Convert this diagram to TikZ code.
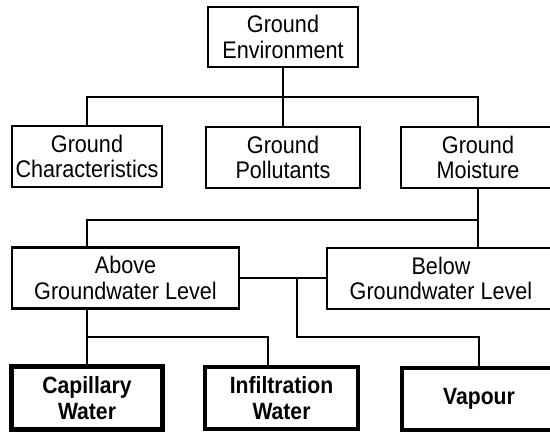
\documentclass[tikz,border=0pt]{standalone}
\usepackage{fontspec}
\setmainfont[FakeStretch=0.9]{Liberation Sans}
\begin{document}
\begin{tikzpicture}[x=1pt,y=-1pt,
  box/.style={draw, line width=2.3pt, inner sep=0pt, align=center,
    font=\fontsize{24}{25.5}\selectfont},
  leafbox/.style={box, line width=4.8pt, font=\fontsize{23.5}{25.5}\selectfont\bfseries},
  link/.style={line width=1.2pt}]
\useasboundingbox (0,0) rectangle (550,433);
\clip (0,0) rectangle (550,433);

% level 0
\node[box, minimum width=150pt, minimum height=60pt] (env) at (283,37) {Ground\\Environment};

% level 1
\node[box, minimum width=150pt, minimum height=61pt] (chr) at (87,156.5) {Ground\\Characteristics};
\node[box, minimum width=154pt, minimum height=61pt] (pol) at (283,157.5) {Ground\\Pollutants};
\node[box, minimum width=154pt, minimum height=61pt] (moi) at (478,157.5) {Ground\\Moisture};

% level 2
\node[box, minimum width=227pt, minimum height=61pt] (abv) at (125.5,278) {Above\\Groundwater Level};
\node[box, minimum width=228pt, minimum height=61pt] (blw) at (441,278.5) {Below\\Groundwater Level};

% level 3
\node[leafbox, minimum width=151pt, minimum height=63pt] (cap) at (87,398) {Capillary\\Water};
\node[leafbox, minimum width=153pt, minimum height=62pt] (inf) at (281.5,398) {Infiltration\\Water};
\node[leafbox, minimum width=154pt, minimum height=62pt] (vap) at (479,399) {Vapour};

% junction points
\coordinate (b1) at (283,97);
\coordinate (b2) at (478,220);
\coordinate (j)  at (297,278);
\coordinate (b3) at (297,337);
\coordinate (b4) at (87,337);
\coordinate (b5) at (268,337);

% connectors
\draw[link] (env.south) -- (pol.north);
\draw[link] (chr.north) |- (b1) -| (moi.north);
\draw[link] (moi.south) -- (moi.south |- blw.north);
\draw[link] (b2) -| (abv.north -| cap.north);
\draw[link] (abv.east) -- (abv.east -| blw.west);
\draw[link] (j) -- (b3) -| (vap.north);
\draw[link] (abv.south -| cap.north) -- (cap.north);
\draw[link] (b4) -- (b5) -- (b5 |- inf.north);
\end{tikzpicture}
\end{document}
